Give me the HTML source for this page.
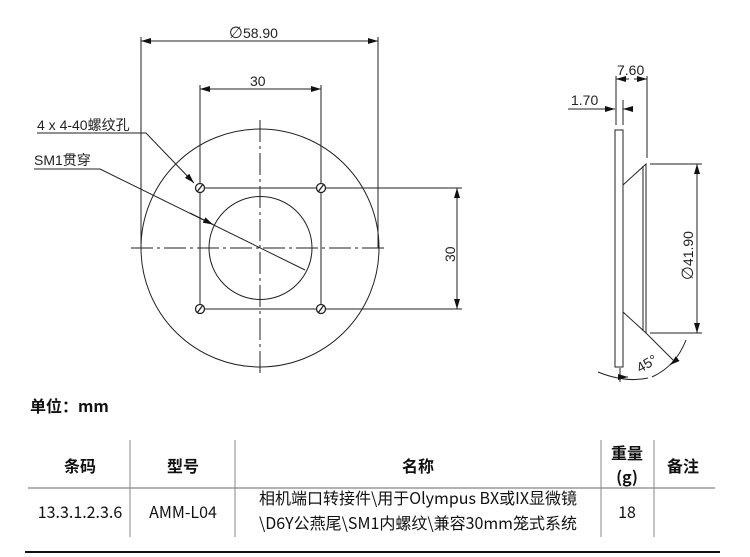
<!DOCTYPE html>
<html><head><meta charset="utf-8"><style>
body{margin:0;background:#fff;width:750px;height:557px;overflow:hidden;position:relative;font-family:"Liberation Sans","Noto Sans CJK SC",sans-serif;}
.t{position:absolute;font-family:"Noto Sans CJK SC","Liberation Sans",sans-serif;font-size:16px;color:#111;white-space:nowrap;line-height:1;}
.c{transform:translateX(-50%);text-align:center}
.b{font-weight:bold}
</style></head><body>
<svg width="750" height="557" style="position:absolute;left:0;top:0" font-family="Liberation Sans, Noto Sans CJK SC, sans-serif">
<defs>
<marker id="a" viewBox="0 0 10 6" refX="10" refY="3" markerWidth="10" markerHeight="6" orient="auto-start-reverse" markerUnits="userSpaceOnUse"><path d="M0,0L10,3L0,6z" fill="#111"/></marker>
</defs>
<g stroke="#222" stroke-width="1" fill="none">
<circle cx="260" cy="248" r="119"/>
<circle cx="260.5" cy="248" r="51.5"/>
<line x1="131" y1="248" x2="388" y2="248" stroke-dasharray="22,4,3,4"/>
<line x1="260" y1="120" x2="260" y2="377" stroke-dasharray="22,4,3,4"/>
<line x1="141" y1="37" x2="141" y2="248"/><line x1="378" y1="37" x2="378" y2="248"/>
<line x1="141" y1="41" x2="378" y2="41" marker-start="url(#a)" marker-end="url(#a)"/>
<line x1="200" y1="85" x2="200" y2="309"/><line x1="321" y1="85" x2="321" y2="309"/>
<line x1="200" y1="89" x2="321" y2="89" marker-start="url(#a)" marker-end="url(#a)"/>
<line x1="200" y1="188" x2="462" y2="188"/><line x1="200" y1="309" x2="462" y2="309"/>
<line x1="457" y1="188" x2="457" y2="309" marker-start="url(#a)" marker-end="url(#a)"/>
<g stroke-width="1.3"><circle cx="200" cy="188" r="4.5" fill="#fff"/><circle cx="321" cy="188" r="4.5" fill="#fff"/><circle cx="200" cy="309" r="4.5" fill="#fff"/><circle cx="321" cy="309" r="4.5" fill="#fff"/>
<line x1="197" y1="192" x2="203" y2="184"/><line x1="318" y1="192" x2="324" y2="184"/><line x1="197" y1="313" x2="203" y2="305"/><line x1="318" y1="313" x2="324" y2="305"/></g>
<polyline points="37,133 146,133 194,183" marker-end="url(#a)"/>
<polyline points="34,169 100,169 305,270"/>
<line x1="190" y1="213" x2="213" y2="224.5" marker-end="url(#a)"/>
<!-- side view -->
<rect x="615" y="130" width="8" height="237"/>
<polyline points="623,185 646,164 646,333 623,312"/>
<line x1="643" y1="166" x2="643" y2="331"/>
<line x1="616" y1="76" x2="616" y2="125"/><line x1="647" y1="76" x2="647" y2="158"/>
<line x1="616" y1="79" x2="629" y2="79" marker-start="url(#a)"/><line x1="634" y1="79" x2="647" y2="79" marker-end="url(#a)"/>
<line x1="623" y1="100" x2="623" y2="125"/>
<line x1="568" y1="109" x2="615" y2="109" marker-end="url(#a)"/><line x1="630" y1="109" x2="623" y2="109" marker-end="url(#a)"/>
<line x1="650" y1="164" x2="702" y2="164"/><line x1="650" y1="333" x2="702" y2="333"/>
<line x1="697" y1="164" x2="697" y2="333" marker-start="url(#a)" marker-end="url(#a)"/>
<line x1="646" y1="333" x2="673" y2="360"/>
<line x1="620" y1="368" x2="620" y2="382"/>
<path d="M598,372 Q625,383 648,378" />
<path d="M620,377 L628,377" marker-end="url(#a)"/>
<path d="M652,377 Q676,366 686,340"/>
<path d="M676,360 L670,365" marker-end="url(#a)"/>
<!-- table -->
<line x1="28" y1="488" x2="715" y2="488" stroke="#999" stroke-width="1.5"/>
<line x1="25" y1="552" x2="720" y2="552" stroke="#111" stroke-width="2"/>
<g stroke="#888"><line x1="130" y1="440" x2="130" y2="537"/><line x1="235" y1="440" x2="235" y2="537"/><line x1="601" y1="440" x2="601" y2="537"/><line x1="654" y1="440" x2="654" y2="537"/></g>
</g>
<g fill="#222" font-size="14">
<text x="229" y="38"><tspan font-size="16" font-family="DejaVu Sans">∅</tspan>58.90</text>
<text x="250" y="86">30</text>
<text x="37" y="130">4 x  4-40螺纹孔</text>
<text x="34" y="165">SM1贯穿</text>
<text transform="translate(455,262) rotate(-90)">30</text>
<text x="617" y="75">7.60</text>
<text x="571" y="105">1.70</text>
<text transform="translate(693,280) rotate(-90)"><tspan font-size="16" font-family="DejaVu Sans">∅</tspan>41.90</text>
<text transform="translate(640,373) rotate(-30)">45°</text>
</g>
</svg>
<div class="t b" style="left:30px;top:397px">单位：mm</div>
<div class="t b c" style="left:80px;top:457px">条码</div>
<div class="t b c" style="left:183px;top:457px">型号</div>
<div class="t b c" style="left:418px;top:457px">名称</div>
<div class="t b c" style="left:627px;top:444px">重量</div>
<div class="t b c" style="left:627px;top:468px">(g)</div>
<div class="t b c" style="left:683px;top:457px">备注</div>
<div class="t c" style="left:80px;top:503px">13.3.1.2.3.6</div>
<div class="t c" style="left:183px;top:503px">AMM-L04</div>
<div class="t c" style="left:418px;top:489px">相机端口转接件\用于Olympus BX或IX显微镜</div>
<div class="t c" style="left:418px;top:514px">\D6Y公燕尾\SM1内螺纹\兼容30mm笼式系统</div>
<div class="t c" style="left:627px;top:503px">18</div>
</body></html>
